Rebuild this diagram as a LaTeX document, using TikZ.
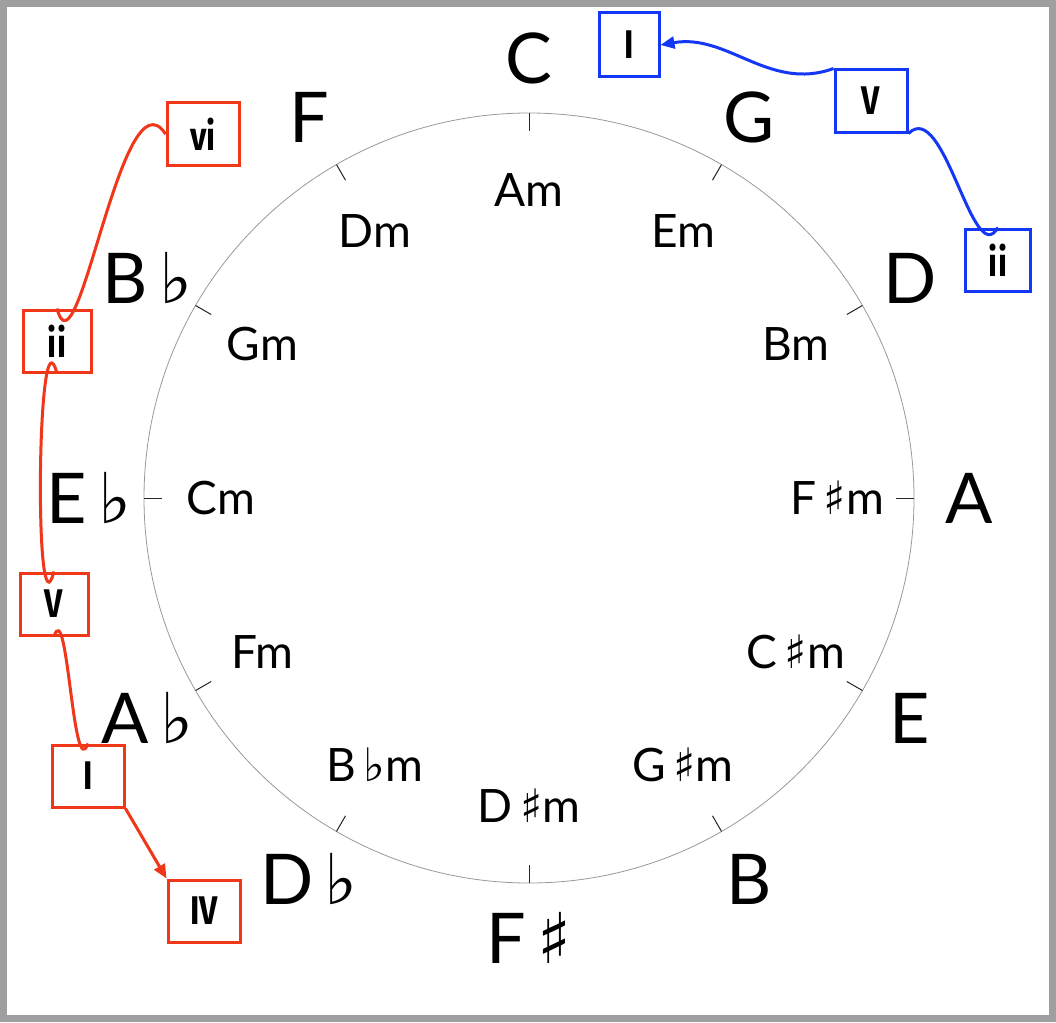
\documentclass[tikz,border=0pt]{standalone}
\usepackage{fontspec}
\setmainfont{Lato}
\newfontfamily\symf{DejaVu Sans}
\newfontfamily\boxf{Fira Sans}[FakeStretch=0.8]
\usetikzlibrary{arrows.meta,calc}
\newcommand{\fl}{\,{\symf\char"266D}}
\newcommand{\shp}{\,{\symf\char"266F}}
\definecolor{rd}{RGB}{240,55,25}
\definecolor{bl}{RGB}{20,55,245}
\tikzset{
 maj/.style={font=\fontsize{70}{70}\selectfont},
 mnr/.style={font=\fontsize{46}{46}\selectfont},
 rbox/.style={draw=rd,line width=3pt,minimum width=68pt,minimum height=62pt,inner sep=2pt,font=\boxf\bfseries\fontsize{40}{40}\selectfont},
 bbox/.style={rbox,draw=bl},
 rl/.style={rd,line width=3pt},
 bline/.style={bl,line width=3pt},
}
\begin{document}
\begin{tikzpicture}[x=1pt,y=-1pt]
\useasboundingbox (0,0) rectangle (1056,1022);
\fill[white] (0,0) rectangle (1056,1022);
\draw[gray!75,line width=7pt] (3.5,3.5) rectangle (1052.5,1018.5);
\coordinate (o) at (529,498);
\draw[gray!80,line width=0.8pt] (o) circle[radius=385];
\foreach \a in {0,30,...,330}{
 \draw[gray!30!black,line width=1pt] ($(o)+(\a:385)$) -- ($(o)+(\a:367)$);}
\foreach \a/\t/\n [count=\i] in {90/C/Am,60/G/Em,30/D/Bm,0/A/F\shp m,-30/E/C\shp m,-60/B/G\shp m,-90/F\shp/D\shp m,-120/D\fl/B\fl m,-150/A\fl/Fm,180/E\fl/Cm,150/B\fl/Gm,120/F/Dm}{
 \node[maj] (M\i) at ($(o)+(-\a:440)$) {\t};
 \node[mnr] (m\i) at ($(o)+(-\a:308)$) {\n};}
% red
\node[rbox,minimum width=72pt] (rvi) at (203,134) {vi};
\node[rbox] (rii) at (57,341) {ii};
\node[rbox] (rV) at (54,604) {V};
\node[rbox,minimum width=72pt] (rI) at (88,776) {I};
\node[rbox,minimum width=72pt] (rIV) at (204,911) {IV};
\draw[rl] (rvi.west) to[out=123,in=-75] (rii.north);
\draw[rl] (rii.south) to[out=105,in=-105] (rV.north);
\draw[rl] (rV.south) to[out=72,in=-110] (rI.north);
\draw[rl,-{Triangle[length=14pt,width=12pt]}] (rI.south east) -- (rIV.north west);
% blue
\node[bbox,minimum width=60pt,minimum height=64pt] (bI) at (629,45) {I};
\node[bbox,minimum width=72pt] (bV) at (871,101) {V};
\node[bbox,minimum width=65pt] (bii) at (998,260) {ii};
\draw[bline] (bii.north) to[out=-120,in=45] (bV.south east);
\draw[bline,-{Triangle[length=14pt,width=12pt]}] (bV.north west) to[out=-160,in=10] (bI.east);
\end{tikzpicture}
\end{document}
